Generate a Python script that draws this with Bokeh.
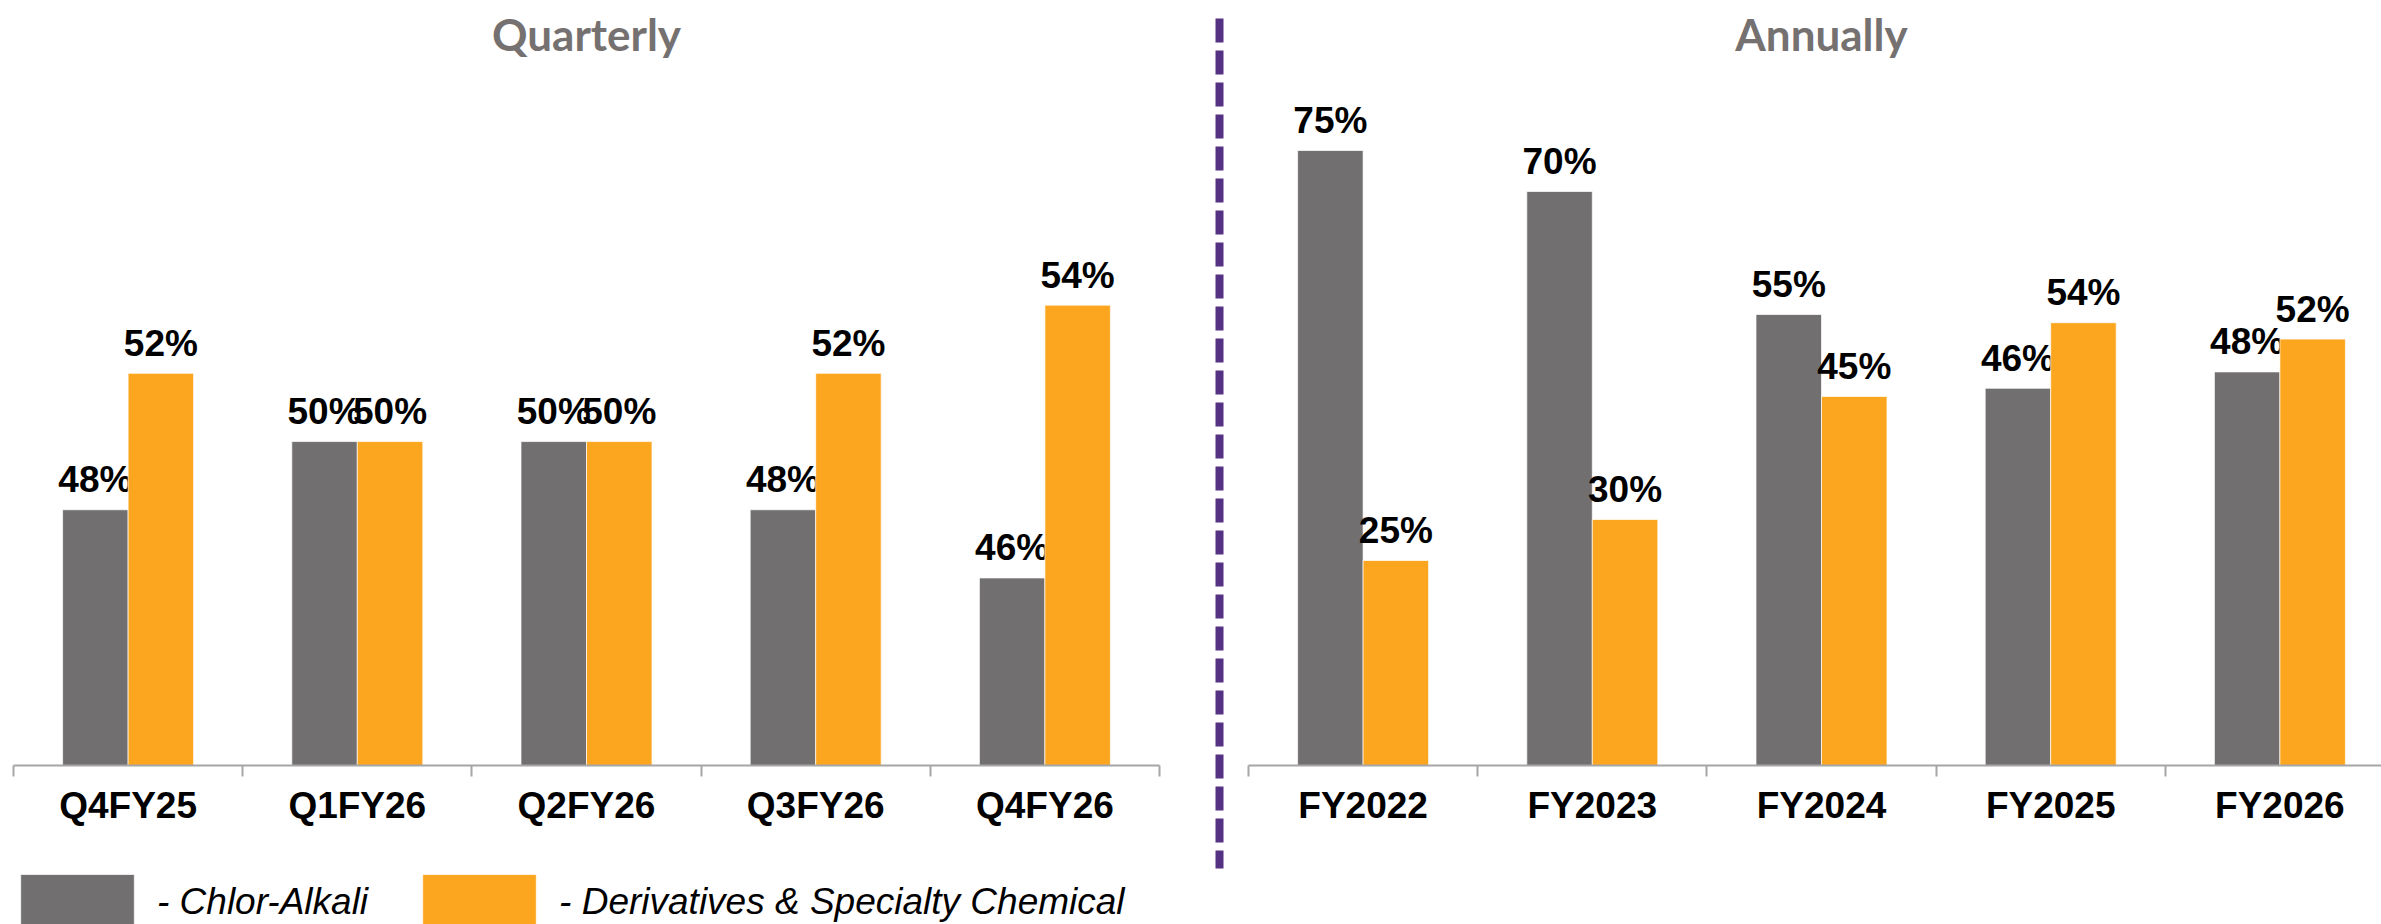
from bokeh.plotting import figure
from bokeh.models import (Range1d, LinearAxis, FixedTicker, ColumnDataSource,
                          Legend, LegendItem)
from bokeh.core.properties import value
from bokeh.embed import file_html
from bokeh.resources import INLINE

# ---- data -------------------------------------------------------------
quarters = ["Q4FY25", "Q1FY26", "Q2FY26", "Q3FY26", "Q4FY26"]
q_chlor_alkali = [48, 50, 50, 48, 46]
q_derivatives = [52, 50, 50, 52, 54]

years = ["FY2022", "FY2023", "FY2024", "FY2025", "FY2026"]
a_chlor_alkali = [75, 70, 55, 46, 48]
a_derivatives = [25, 30, 45, 54, 52]

series_names = ["- Chlor-Alkali", "- Derivatives & Specialty Chemical"]
panel_titles = ["Quarterly", "Annually"]

# ---- style ------------------------------------------------------------
GREY = "#726F70"
ORANGE = "#FCA61F"
AXIS_GREY = "#A6A6A6"
TITLE_GREY = "#767171"
PURPLE = "#553184"
FONT = "Liberation Sans"

# ---- layout (screen pixels) -------------------------------------------
W, H = 2381, 924
PX_LEFT = 13          # start of the quarterly axis
PX_CAT = 229.2        # width of one category slot
PX_RIGHT = 1248       # start of the annual axis
PX_BASE = 765         # baseline, measured from the top
PX_DIV = 1219         # dashed separator
PX_DIV_TOP, PX_DIV_BOT = 18, 868
BAR_PX = 65.5

Q_MIN, Q_SCALE = 40.5, 34.1   # quarterly axis floor, px per point
A_MIN, A_SCALE = 0.0, 8.2     # annual axis floor, px per point

x_range = Range1d(-PX_LEFT / PX_CAT, (W - PX_LEFT) / PX_CAT)
R_OFF = (PX_RIGHT - PX_LEFT) / PX_CAT
DIV_X = (PX_DIV - PX_LEFT) / PX_CAT
BW = BAR_PX / PX_CAT

q_range = Range1d(Q_MIN - (H - PX_BASE) / Q_SCALE, Q_MIN + PX_BASE / Q_SCALE)
a_range = Range1d(A_MIN - (H - PX_BASE) / A_SCALE, A_MIN + PX_BASE / A_SCALE)


def q_from_px(px):
    return Q_MIN + (PX_BASE - px) / Q_SCALE


p = figure(width=W, height=H, x_range=x_range, y_range=q_range,
           x_axis_type=None, y_axis_type=None,
           output_backend="svg", toolbar_location=None,
           min_border=0, outline_line_color=None)
p.extra_y_ranges = {"annual": a_range}
p.xgrid.visible = False
p.ygrid.visible = False


def draw_panel(cats, left_vals, right_vals, offset, floor, range_name):
    centers = [offset + i + 0.5 for i in range(len(cats))]
    renderers = []
    for vals, color, shift in ((left_vals, GREY, -BW / 2),
                               (right_vals, ORANGE, BW / 2)):
        src = ColumnDataSource(dict(
            x=[c + shift for c in centers],
            top=vals,
            label=[f"{v}%" for v in vals],
        ))
        kw = {} if range_name is None else {"y_range_name": range_name}
        r = p.vbar(x="x", top="top", bottom=floor, width=BW, source=src,
                   fill_color=color, line_color="white", line_width=1,
                   line_alpha=0.7, **kw)
        p.text(x="x", y="top", text="label", source=src,
               text_font=value(FONT), text_font_style="bold",
               text_font_size="37px", text_color="black",
               text_align="center", text_baseline="alphabetic",
               y_offset=-30, **kw)
        renderers.append(r)

    bounds = [offset + i for i in range(len(cats) + 1)]
    ax = LinearAxis(ticker=FixedTicker(ticks=centers, minor_ticks=bounds),
                    fixed_location=Q_MIN,
                    bounds=(bounds[0], bounds[-1]))
    ax.major_label_overrides = {c: name for c, name in zip(centers, cats)}
    ax.axis_line_color = AXIS_GREY
    ax.axis_line_width = 2
    ax.major_tick_in = 0
    ax.major_tick_out = 0
    ax.minor_tick_in = 0
    ax.minor_tick_out = 11
    ax.minor_tick_line_color = AXIS_GREY
    ax.minor_tick_line_width = 2
    ax.major_label_text_font = FONT
    ax.major_label_text_font_style = "bold"
    ax.major_label_text_font_size = "37px"
    ax.major_label_text_color = "black"
    ax.major_label_standoff = 8
    p.add_layout(ax, "below")
    return renderers


q_bars = draw_panel(quarters, q_chlor_alkali, q_derivatives, 0.0, Q_MIN, None)
a_bars = draw_panel(years, a_chlor_alkali, a_derivatives, R_OFF, A_MIN, "annual")

# panel headings
p.text(x=[len(quarters) / 2, R_OFF + len(years) / 2],
       y=[q_range.end, q_range.end], text=panel_titles,
       y_offset=33, text_font=value("Lato"), text_font_style="bold",
       text_font_size="44px", text_color=TITLE_GREY,
       text_align="center", text_baseline="alphabetic")

# dashed separator between the two panels
p.segment(x0=[DIV_X], y0=[q_from_px(PX_DIV_TOP)],
          x1=[DIV_X], y1=[q_from_px(PX_DIV_BOT)],
          line_color=PURPLE, line_width=8, line_dash="24 8")

# legend swatches are drawn inset by 10% of the glyph box
legend = Legend(
    items=[LegendItem(label=series_names[0], renderers=[q_bars[0]]),
           LegendItem(label=series_names[1], renderers=[q_bars[1]])],
    orientation="horizontal", location=(6, -13),
    glyph_width=142, glyph_height=70, label_standoff=9, spacing=40,
    padding=0, margin=0, border_line_alpha=0, background_fill_alpha=0,
    label_text_font=FONT, label_text_font_style="italic",
    label_text_font_size="37px", label_text_color="black",
)
p.add_layout(legend)

open("out.html", "w").write(file_html(p, INLINE))
